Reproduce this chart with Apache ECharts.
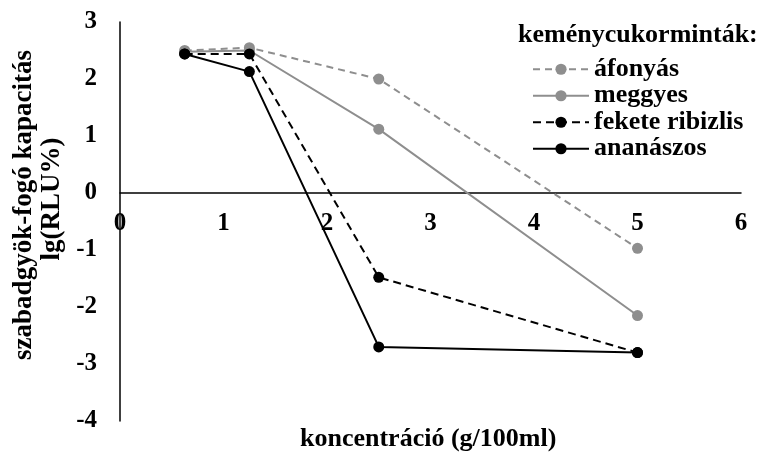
<!DOCTYPE html>
<html>
<head>
<meta charset="utf-8">
<script src="https://cdn.jsdelivr.net/npm/echarts@6/dist/echarts.min.js"></script>
<style>
  html, body { margin: 0; padding: 0; background: #fff; }
  #chart { width: 758px; height: 455px; }
</style>
</head>
<body>
<div id="chart"></div>
<script>
// koncentráció (g/100ml)
const concentrations = [0.625, 1.25, 2.5, 5];

const afonyas = [2.5, 2.55, 2.0, -0.97];
const meggyes = [2.48, 2.5, 1.12, -2.15];
const feketeRibizlis = [2.44, 2.44, -1.48, -2.8];
const ananaszos = [2.44, 2.13, -2.7, -2.8];

const seriesNames = ["áfonyás", "meggyes", "fekete ribizlis", "ananászos"];
const xTicks = [0, 1, 2, 3, 4, 5, 6];
const yTicks = [-4, -3, -2, -1, 0, 1, 2, 3];

const FONT = "'Liberation Serif', 'Times New Roman', serif";
const GRAY = "#8e8e8e";

const pairs = (ys) => concentrations.map((x, i) => [x, ys[i]]);

const makeSeries = (name, ys, color, type) => ({
  name,
  type: "line",
  data: pairs(ys),
  symbol: "circle",
  symbolSize: 11,
  itemStyle: { color },
  lineStyle: { color, width: 2, type },
  emphasis: { disabled: true },
  z: 3,
});

const chart = echarts.init(document.getElementById("chart"));

// grid: oben 22, unten 34 -> y=0 liegt bei 193, Unterkante bei 421
const gridTop = 22;
const gridBottom = 34;
const gridHeight = 455 - gridTop - gridBottom;
const zeroOffset = -gridHeight * (0 - yTicks[0]) / (yTicks[yTicks.length - 1] - yTicks[0]);

chart.setOption({
  animation: false,
  grid: { left: 120, right: 17, top: gridTop, bottom: gridBottom },
  legend: {
    left: 527,
    top: 51,
    orient: "vertical",
    itemWidth: 56,
    itemHeight: 14,
    itemGap: 0,
    data: seriesNames,
    textStyle: {
      fontFamily: FONT,
      fontWeight: "bold",
      fontSize: 26,
      lineHeight: 26.5,
      color: "#000",
    },
  },
  graphic: [
    {
      type: "text",
      left: 518,
      top: 22,
      style: { text: "keménycukorminták:", font: "bold 26px " + FONT, fill: "#000" },
    },
    {
      type: "text",
      left: 300,
      top: 426,
      style: { text: "koncentráció (g/100ml)", font: "bold 26px " + FONT, fill: "#000" },
    },
    {
      type: "text",
      x: 24,
      y: 205,
      rotation: Math.PI / 2,
      style: {
        text: "szabadgyök-fogó kapacitás",
        font: "bold 27px " + FONT,
        fill: "#000",
        align: "center",
        verticalAlign: "middle",
      },
    },
    {
      type: "text",
      x: 52,
      y: 199,
      rotation: Math.PI / 2,
      style: {
        text: "lg(RLU%)",
        font: "bold 27px " + FONT,
        fill: "#000",
        align: "center",
        verticalAlign: "middle",
      },
    },
  ],
  xAxis: {
    type: "value",
    min: xTicks[0],
    max: xTicks[xTicks.length - 1],
    interval: 1,
    offset: zeroOffset,
    axisLine: { onZero: false, lineStyle: { color: "#000", width: 1.5 } },
    axisTick: { show: false },
    splitLine: { show: false },
    axisLabel: {
      margin: 18,
      fontFamily: FONT,
      fontWeight: "bold",
      fontSize: 25,
      color: "#000",
    },
  },
  yAxis: {
    type: "value",
    min: yTicks[0],
    max: yTicks[yTicks.length - 1],
    interval: 1,
    axisLine: { show: true, onZero: false, lineStyle: { color: "#000", width: 1.5 } },
    axisTick: { show: false },
    splitLine: { show: false },
    axisLabel: {
      margin: 23,
      fontFamily: FONT,
      fontWeight: "bold",
      fontSize: 25,
      color: "#000",
    },
  },
  series: [
    makeSeries(seriesNames[0], afonyas, GRAY, [7, 5]),
    makeSeries(seriesNames[1], meggyes, GRAY, "solid"),
    makeSeries(seriesNames[2], feketeRibizlis, "#000", [8, 5]),
    makeSeries(seriesNames[3], ananaszos, "#000", "solid"),
  ],
});
</script>
</body>
</html>
